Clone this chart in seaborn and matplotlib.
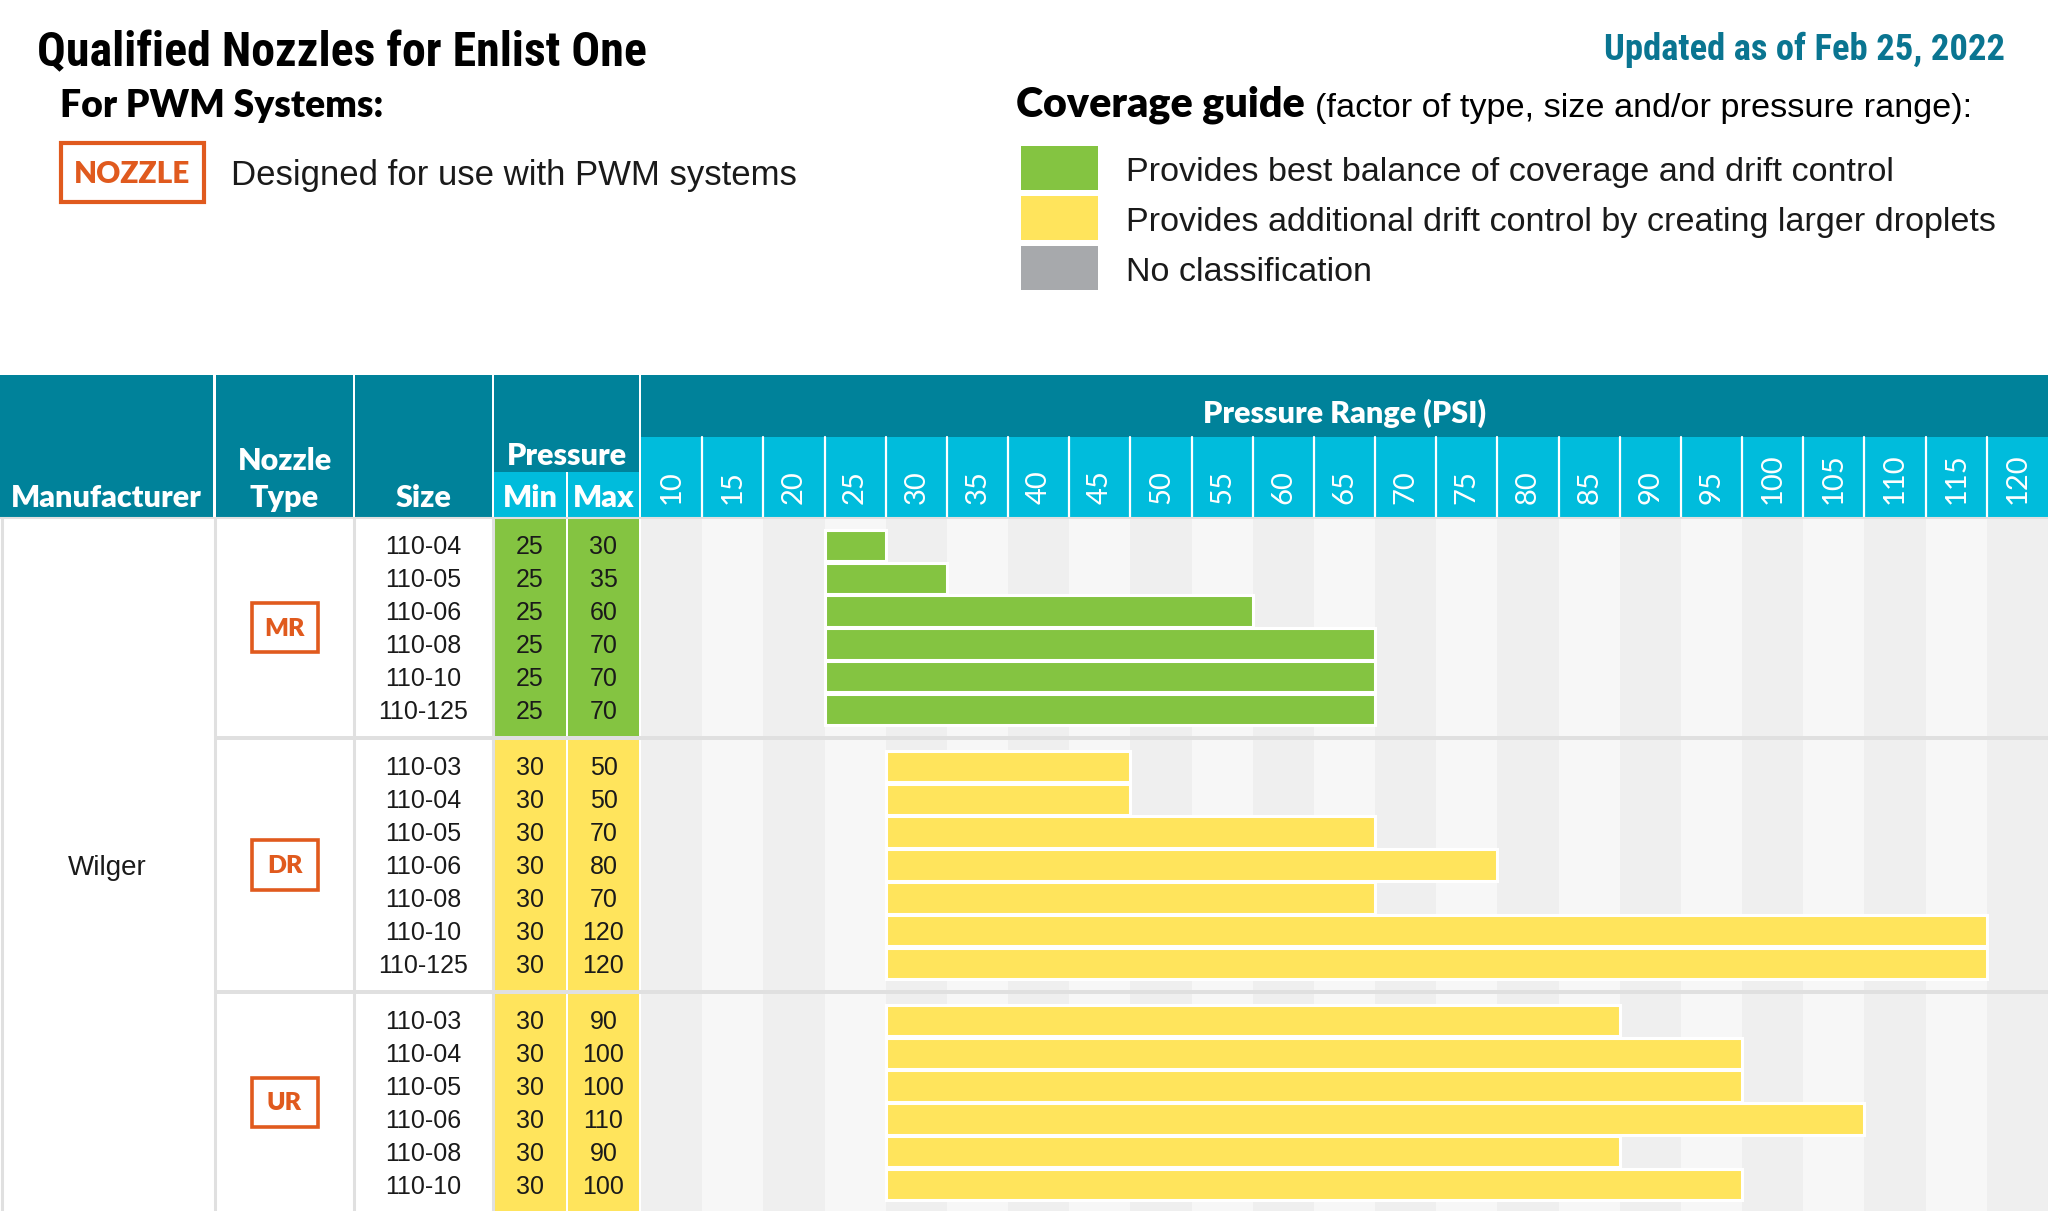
import numpy as np
import pandas as pd
import matplotlib
matplotlib.use("Agg")
import matplotlib.pyplot as plt
import seaborn as sns
from matplotlib.patches import Rectangle

# ---------------- data ----------------
manufacturer = "Wilger"
nozzle_types = ["MR", "DR", "UR"]
mr_sizes = ["110-04", "110-05", "110-06", "110-08", "110-10", "110-125"]
mr_min = [25, 25, 25, 25, 25, 25]
mr_max = [30, 35, 60, 70, 70, 70]
dr_sizes = ["110-03", "110-04", "110-05", "110-06", "110-08", "110-10", "110-125"]
dr_min = [30, 30, 30, 30, 30, 30, 30]
dr_max = [50, 50, 70, 80, 70, 120, 120]
ur_sizes = ["110-03", "110-04", "110-05", "110-06", "110-08", "110-10"]
ur_min = [30, 30, 30, 30, 30, 30]
ur_max = [90, 100, 100, 110, 90, 100]
group_class = ["best", "drift", "drift"]
pressure_ticks = [10, 15, 20, 25, 30, 35, 40, 45, 50, 55, 60, 65, 70, 75,
                  80, 85, 90, 95, 100, 105, 110, 115, 120]
legend_labels = ["Provides best balance of coverage and drift control",
                 "Provides additional drift control by creating larger droplets",
                 "No classification"]

# ---------------- style ----------------
TEAL = "#00829a"
CYAN = "#00bcdc"
GREEN = "#84c441"
YELLOW = "#ffe45c"
GRAY = "#a7a9ac"
ORANGE = "#e05a1e"
UPD = "#0a7591"
COLDARK = "#efefef"
COLLIGHT = "#f7f7f7"
SEP = "#e0e0e0"
class_colors = {"best": GREEN, "drift": YELLOW}

sns.set_theme(style="white")
plt.rcParams["font.family"] = ["Liberation Sans", "DejaVu Sans"]
GEO = ["Lato", "DejaVu Sans"]
COND = ["Roboto Condensed", "Liberation Sans Narrow", "DejaVu Sans"]

W, H = 2048, 1211
fig = plt.figure(figsize=(W / 100, H / 100), dpi=100)
fig.patch.set_facecolor("white")

# ---------------- build rows ----------------
groups = [("MR", mr_sizes, mr_min, mr_max), ("DR", dr_sizes, dr_min, dr_max),
          ("UR", ur_sizes, ur_min, ur_max)]
PAD, SEPW = 0.3, 0.12
rows, spans, seps = [], [], []
y = 0.0
for gi, (t, sz, mn, mx) in enumerate(groups):
    top = y
    for i, (s, a, b) in enumerate(zip(sz, mn, mx)):
        rows.append(dict(type=t, size=s, pmin=a, pmax=b, cls=group_class[gi],
                         y=round(top + PAD + 0.5 + i, 4)))
    bottom = top + 2 * PAD + len(sz)
    spans.append((t, top, bottom, group_class[gi]))
    y = bottom
    if gi < len(groups) - 1:
        seps.append((y, y + SEPW))
        y += SEPW
total = y
df = pd.DataFrame(rows)
df["span"] = df["pmax"] - df["pmin"]

BODY_TOP = 519
body_h = (H - BODY_TOP) / H
GX0 = 641
ax_grid = fig.add_axes([GX0 / W, 0, (W - GX0) / W, body_h])
ax_left = fig.add_axes([0, 0, GX0 / W, body_h], sharey=ax_grid)

# grid background columns
for i, v in enumerate(pressure_ticks):
    ax_grid.axvspan(v, v + 5, color=COLDARK if i % 2 == 0 else COLLIGHT, lw=0, zorder=0)
for a, b in seps:
    ax_grid.axhspan(a, b, color=SEP, lw=0, zorder=1)

# bars
for cls, color in class_colors.items():
    sub = df[df["cls"] == cls].sort_values("y")
    sns.barplot(data=sub, x="span", y="y", orient="y", native_scale=True,
                left=sub["pmin"].to_numpy(), width=0.95, color=color,
                saturation=1, edgecolor="white", linewidth=2.2,
                errorbar=None, ax=ax_grid, zorder=3)
ax_grid.set_xlim(pressure_ticks[0], pressure_ticks[-1] + 5)
ax_grid.set_ylim(total, 0)
ax_grid.axis("off")

# left table body
ax_left.set_xlim(0, GX0)
for t, top, bottom, cls in spans:
    ax_left.add_patch(Rectangle((494, top), 72, bottom - top, color=class_colors[cls], lw=0))
    ax_left.add_patch(Rectangle((568, top), 71, bottom - top, color=class_colors[cls], lw=0))
    yc = (top + bottom) / 2
    ax_left.add_patch(Rectangle((251.5, yc - 0.75), 66, 1.5, fill=False,
                                ec=ORANGE, lw=2.6, zorder=4))
    ax_left.text(284.5, yc + 0.03, t, ha="center", va="center", color=ORANGE,
                 fontsize=18, fontweight="heavy", family=GEO, zorder=5)
for a, b in seps:
    ax_left.add_patch(Rectangle((216, a), GX0 - 216, b - a, color=SEP, lw=0, zorder=2))
for xv in [1.5, 214.5, 354, 493]:
    ax_left.axvline(xv, color=SEP, lw=2.2, zorder=3)
BOFF = 0.27
for _, r in df.iterrows():
    yb = r["y"] + BOFF
    ax_left.text(423.5, yb, r["size"], ha="center", va="baseline", fontsize=18, color="#1a1a1a")
    ax_left.text(530, yb, str(r["pmin"]), ha="center", va="baseline", fontsize=18, color="#1a1a1a")
    ax_left.text(603.5, yb, str(r["pmax"]), ha="center", va="baseline", fontsize=18, color="#1a1a1a")
ax_left.text(107, total / 2 + 0.3, manufacturer, ha="center", va="baseline", fontsize=20, color="#1a1a1a")
ax_left.set_ylim(total, 0)
ax_left.axis("off")

# grid header
ax_hg = fig.add_axes([GX0 / W, (H - 517) / H, (W - GX0) / W, 142 / H], sharex=ax_grid)
ax_hg.set_ylim(0, 142)
ax_hg.add_patch(Rectangle((pressure_ticks[0], 80), pressure_ticks[-1] + 5 - pressure_ticks[0], 62, color=TEAL, lw=0))
ax_hg.add_patch(Rectangle((pressure_ticks[0], 0), pressure_ticks[-1] + 5 - pressure_ticks[0], 80, color=CYAN, lw=0))
for v in pressure_ticks[1:]:
    ax_hg.plot([v, v], [0, 80], color="white", lw=1.6)
for v in pressure_ticks:
    ax_hg.text(v + 2.5, 13, str(v), rotation=90, ha="center", va="bottom",
               color="white", fontsize=21, family=GEO)
ax_hg.text((pressure_ticks[0] + pressure_ticks[-1] + 5) / 2, 104, "Pressure Range (PSI)",
           ha="center", va="center", color="white", fontsize=22, fontweight="heavy", family=GEO)
ax_hg.set_xlim(pressure_ticks[0], pressure_ticks[-1] + 5)
ax_hg.axis("off")

# overlay in pixel coordinates
ax_o = fig.add_axes([0, 0, 1, 1])
ax_o.set_xlim(0, W)
ax_o.set_ylim(H, 0)
ax_o.axis("off")
for x0, w0 in [(0, 213), (216, 137), (355, 137)]:
    ax_o.add_patch(Rectangle((x0, 375), w0, 142, color=TEAL, lw=0))
ax_o.add_patch(Rectangle((494, 375), 145, 97, color=TEAL, lw=0))
ax_o.add_patch(Rectangle((494, 472), 72, 45, color=CYAN, lw=0))
ax_o.add_patch(Rectangle((568, 472), 71, 45, color=CYAN, lw=0))
ax_o.plot([0, W], [518, 518], color=SEP, lw=1.5)

hk = dict(color="white", fontsize=22, fontweight="heavy", family=GEO, ha="center", va="baseline")
ax_o.text(106.5, 507, "Manufacturer", **hk)
ax_o.text(284.5, 470, "Nozzle", **hk)
ax_o.text(284.5, 507, "Type", **hk)
ax_o.text(423.5, 507, "Size", **hk)
ax_o.text(566.5, 465, "Pressure", **hk)
ax_o.text(530, 507, "Min", **hk)
ax_o.text(603.5, 507, "Max", **hk)

renderer = fig.canvas.get_renderer()


def fit(txt, target):
    w = txt.get_window_extent(renderer).width
    txt.set_fontsize(txt.get_fontsize() * target / w)
    return txt


fit(ax_o.text(37, 66, "Qualified Nozzles for Enlist One", fontsize=34, fontweight="black",
              fontstretch="condensed", family=COND, color="black", va="baseline"), 609)
fit(ax_o.text(2005, 60, "Updated as of Feb 25, 2022", fontsize=29, fontweight="black",
              fontstretch="condensed", family=COND, color=UPD, ha="right", va="baseline"), 400)
fit(ax_o.text(60, 117, "For PWM Systems:", fontsize=27, fontweight="heavy", family=GEO,
              color="black", va="baseline"), 324)
fit(ax_o.text(1016, 117, "Coverage guide", fontsize=26, fontweight="heavy", family=GEO,
              color="black", va="baseline"), 289)
fit(ax_o.text(1315, 117, "(factor of type, size and/or pressure range):", fontsize=21,
              color="black", va="baseline"), 657)

ax_o.add_patch(Rectangle((61, 143), 143, 59, fill=False, ec=ORANGE, lw=3))
fit(ax_o.text(132.5, 174, "NOZZLE", fontsize=20, fontweight="heavy", family=GEO,
              color=ORANGE, ha="center", va="center"), 116)
fit(ax_o.text(231, 185, "Designed for use with PWM systems", fontsize=24,
              color="#1a1a1a", va="baseline"), 567)

leg_colors = [GREEN, YELLOW, GRAY]
leg_y = [146, 196, 246]
leg_base = [181, 231, 281]
t2 = ax_o.text(1126, leg_base[1], legend_labels[1], fontsize=22, color="#1a1a1a", va="baseline")
fit(t2, 866)
fs = t2.get_fontsize()
for i, (c, yy) in enumerate(zip(leg_colors, leg_y)):
    ax_o.add_patch(Rectangle((1021, yy), 77, 44, color=c, lw=0))
    if i != 1:
        ax_o.text(1126, leg_base[i], legend_labels[i], fontsize=fs, color="#1a1a1a", va="baseline")

fig.savefig("out.png", dpi=100, facecolor="white")
